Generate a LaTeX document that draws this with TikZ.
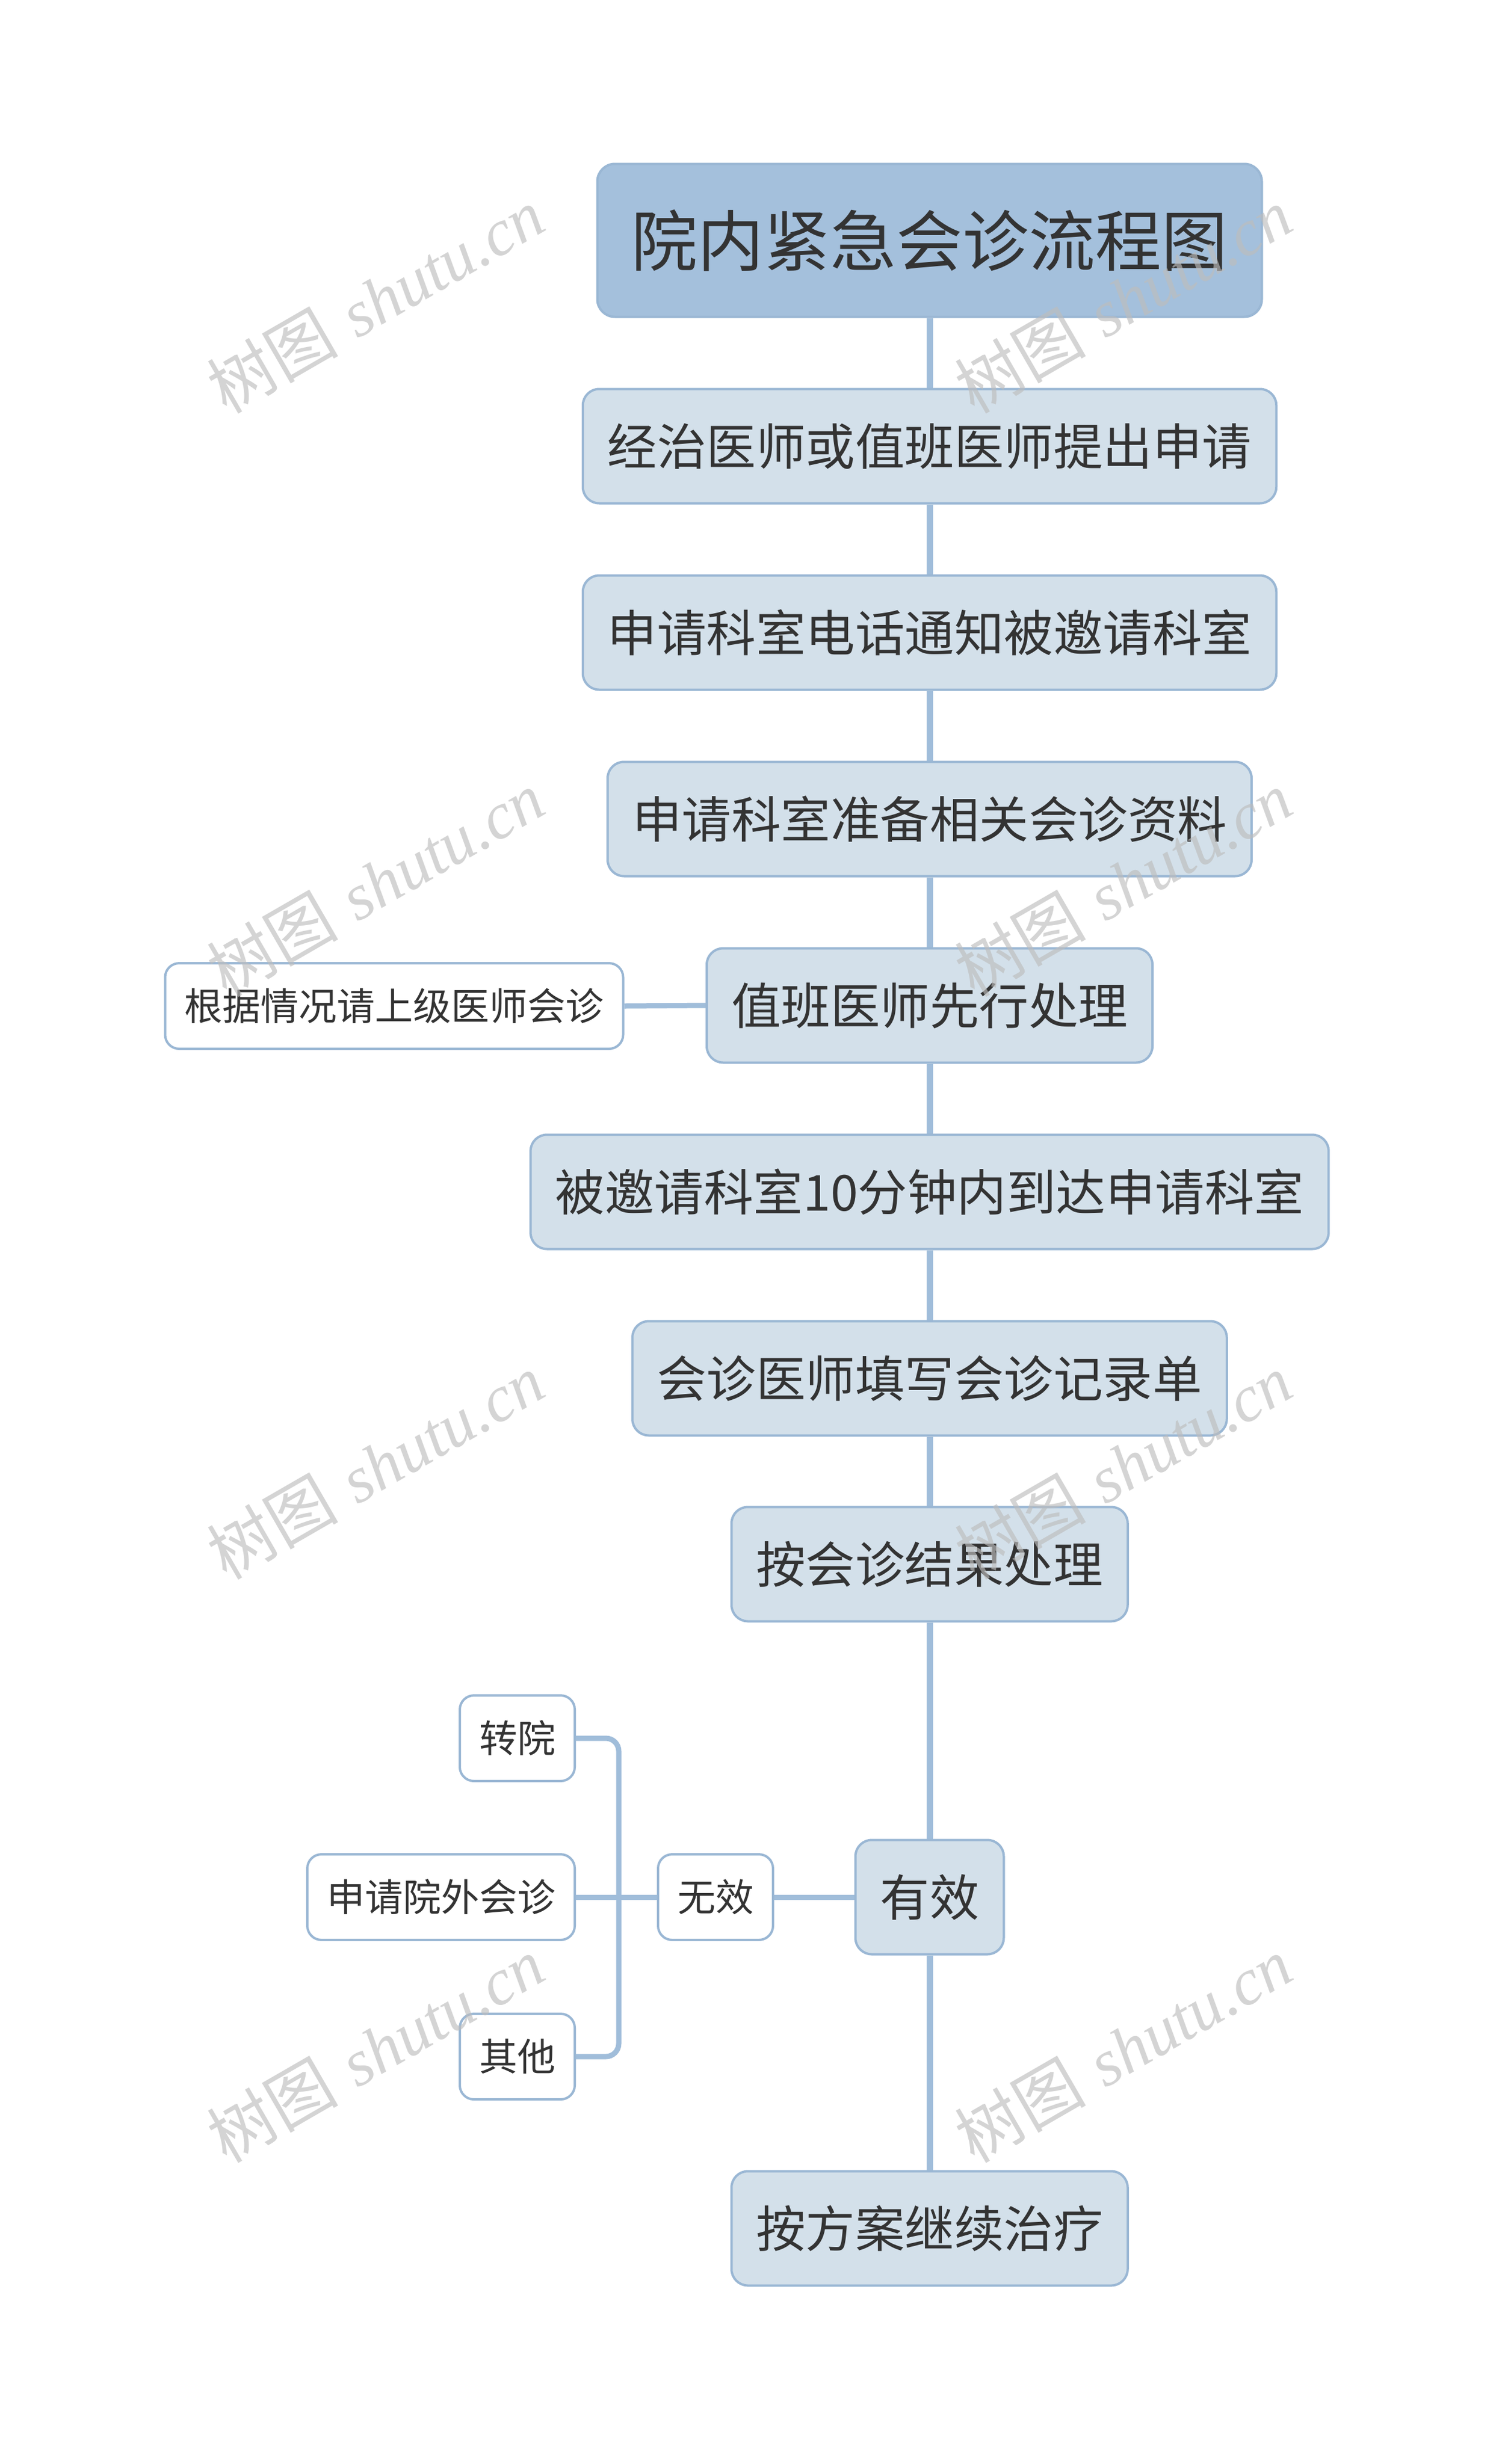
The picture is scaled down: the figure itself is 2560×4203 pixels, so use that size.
\documentclass[tikz,border=0pt]{standalone}
\usepackage{fontspec}
\newfontfamily\cjk{Noto Sans CJK SC}
\newfontfamily\wmserif{Liberation Serif}
\usetikzlibrary{backgrounds}
\definecolor{lineblue}{HTML}{A0BDDA}
\definecolor{bordblue}{HTML}{9AB7D4}
\definecolor{titlefill}{HTML}{A4C0DC}
\definecolor{nodefill}{HTML}{D3E0EA}
\definecolor{txt}{HTML}{333333}
\definecolor{wm}{HTML}{BDBDBD}
\begin{document}
\begin{tikzpicture}[x=1pt,y=-1pt,
 base/.style={draw=bordblue, line width=4pt, rounded corners=28pt, text=txt, inner ysep=0pt},
 titlebox/.style={base, fill=titlefill, minimum height=261pt, inner xsep=58pt, rounded corners=30pt,
   font=\cjk\fontsize{113}{130}\selectfont, text height=94pt, text depth=8pt},
 stepbox/.style={base, fill=nodefill, minimum height=195pt, inner xsep=42pt,
   font=\cjk\fontsize{84.5}{100}\selectfont, text height=70pt, text depth=6pt},
 leafbox/.style={base, fill=white, minimum height=146pt, inner xsep=33pt, rounded corners=24pt,
   font=\cjk\fontsize{65}{78}\selectfont, text height=54pt, text depth=5pt},
 trunk/.style={draw=lineblue, line width=11pt},
 branch/.style={draw=lineblue, line width=9pt},
 wmark/.style={text=wm, opacity=0.65, rotate=30, inner sep=0pt}
]
\useasboundingbox (0,0) rectangle (2560,4203);

% main column
\node[titlebox] (t)  at (1585,410)  {院内紧急会诊流程图};
\node[stepbox]  (n2) at (1585,761)  {经治医师或值班医师提出申请};
\node[stepbox]  (n3) at (1585,1079) {申请科室电话通知被邀请科室};
\node[stepbox]  (n4) at (1585,1397) {申请科室准备相关会诊资料};
\node[stepbox]  (n5) at (1585,1715) {值班医师先行处理};
\node[stepbox]  (n6) at (1585,2033) {被邀请科室10分钟内到达申请科室};
\node[stepbox]  (n7) at (1585,2351) {会诊医师填写会诊记录单};
\node[stepbox]  (n8) at (1585,2668) {按会诊结果处理};
\node[stepbox]  (n9) at (1585,3236) {有效};
\node[stepbox]  (n10) at (1585,3801) {按方案继续治疗};

% side nodes
\node[leafbox] (l1) at (672,1716) {根据情况请上级医师会诊};
\node[leafbox] (wx) at (1220,3236) {无效};
\node[leafbox] (zy) at (882,2965) {转院};
\node[leafbox] (sq) at (752,3236) {申请院外会诊};
\node[leafbox] (qt) at (882,3508) {其他};
\coordinate (bk) at (1055,3236);

\begin{pgfonlayer}{background}
\fill[white] (0,0) rectangle (2560,4203);
\draw[trunk] (t) -- (n2);
\draw[trunk] (n2) -- (n3);
\draw[trunk] (n3) -- (n4);
\draw[trunk] (n4) -- (n5);
\draw[trunk] (n5) -- (n6);
\draw[trunk] (n6) -- (n7);
\draw[trunk] (n7) -- (n8);
\draw[trunk] (n8) -- (n9);
\draw[trunk] (n9) -- (n10);
\draw[branch] (n5.west) -- (l1.east);
\draw[branch] (n9.west) -- (wx.east);
\draw[branch] (wx.west) -- (sq.east);
\draw[branch, rounded corners=22pt] (zy.east) -| (bk) |- (qt.east);
\end{pgfonlayer}

% watermarks
\foreach \wx/\wy [count=\i] in {640/512, 1915/512, 640/1507, 1915/1507, 640/2501, 1915/2501, 640/3496, 1915/3496}
  \node[wmark] (wm\i) at (\wx,\wy) {\fontsize{112}{130}\selectfont{\cjk 树图} {\wmserif\itshape shutu.cn}};
\end{tikzpicture}
\end{document}
